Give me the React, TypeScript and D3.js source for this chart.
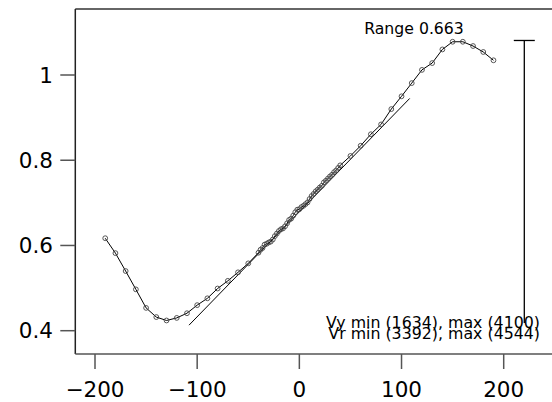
import React from "react";
import * as d3 from "d3";

const xValues: number[] = [
  -190, -180, -170, -160, -150, -140, -130, -120, -110, -100, -90, -80, -70, -60, -50,
  -40, -38, -36, -34, -32, -30, -28, -26, -24, -22, -20, -18, -16, -14, -12, -10, -8, -6, -4, -2,
  0, 2, 4, 6, 8, 10, 12, 14, 16, 18, 20, 22, 24, 26, 28, 30, 32, 34, 36, 38, 40,
  50, 60, 70, 80, 90, 100, 110, 120, 130, 140, 150, 160, 170, 180, 190,
];
const yValues: number[] = [
  0.617, 0.582, 0.54, 0.497, 0.4535, 0.432, 0.424, 0.43, 0.441, 0.46, 0.476, 0.499, 0.517, 0.537, 0.558,
  0.583, 0.59, 0.594, 0.602, 0.604, 0.607, 0.609, 0.614, 0.622, 0.628, 0.634, 0.638, 0.64, 0.645, 0.652, 0.66, 0.663, 0.67, 0.678, 0.684,
  0.685, 0.69, 0.693, 0.697, 0.701, 0.709, 0.716, 0.721, 0.727, 0.731, 0.736, 0.74, 0.748, 0.752, 0.757, 0.762, 0.766, 0.772, 0.776, 0.782, 0.788,
  0.81, 0.834, 0.861, 0.884, 0.92, 0.95, 0.981, 1.012, 1.028, 1.06, 1.078, 1.078, 1.068, 1.054, 1.0345,
];
const fitX: number[] = [-108, 108];
const fitY: number[] = [0.413, 0.945];
const xTicks: number[] = [-200, -100, 0, 100, 200];
const yTicks: number[] = [0.4, 0.6, 0.8, 1];
const rangeTop = 1.081;
const rangeValue = 0.663;
const rangeLabel = "Range 0.663";
const infoLines: string[] = ["Vy min (1634), max (4100)", "Vr min (3392), max (4544)"];

const W = 552;
const H = 402;
const FONT = "'DejaVu Sans', sans-serif";

export default function App() {
  const x = d3.scaleLinear().domain([-200, 200]).range([95, 503.7]);
  const y = d3.scaleLinear().domain([0.4, 1]).range([330.7, 75]);
  const left = 75.3;
  const top = 9;
  const bottom = 354;

  const pts = xValues.map((v, i) => [v, yValues[i]] as [number, number]);
  const line = d3
    .line<[number, number]>()
    .x((d) => x(d[0]))
    .y((d) => y(d[1]));
  const fitPts = fitX.map((v, i) => [v, fitY[i]] as [number, number]);

  const fmtY = (v: number) => (v === 1 ? "1" : d3.format(".1f")(v));
  const fmtX = (v: number) => (v < 0 ? "\u2212" + Math.abs(v) : String(v));

  const barX = 524.3;

  return (
    <svg
      width={W}
      height={H}
      style={{ position: "absolute", left: 0, top: 0, background: "#fff" }}
      fontFamily={FONT}
    >
      <rect x={0} y={0} width={W} height={H} fill="#fff" />
      {/* frame */}
      <line x1={left} x2={W} y1={top} y2={top} stroke="#333" strokeWidth={1.5} />
      <line x1={left} x2={left} y1={top} y2={bottom} stroke="#222" strokeWidth={1.5} />
      <line x1={left} x2={W} y1={bottom} y2={bottom} stroke="#555" strokeWidth={1.5} />

      {/* x ticks */}
      {xTicks.map((t) => (
        <g key={"xt" + t}>
          <line x1={x(t)} x2={x(t)} y1={bottom} y2={bottom + 15} stroke="#555" strokeWidth={1.5} />
          <text x={x(t)} y={397} textAnchor="middle" fontSize={21.5} fill="#000">
            {fmtX(t)}
          </text>
        </g>
      ))}
      {/* y ticks */}
      {yTicks.map((t) => (
        <g key={"yt" + t}>
          <line x1={left - 15} x2={left} y1={y(t)} y2={y(t)} stroke="#555" strokeWidth={1.5} />
          <text x={53} y={y(t)} dy="0.36em" textAnchor="end" fontSize={21.5} fill="#000">
            {fmtY(t)}
          </text>
        </g>
      ))}

      {/* fit line */}
      <path d={line(fitPts) || ""} fill="none" stroke="#000" strokeWidth={1} />
      {/* data line */}
      <path d={line(pts) || ""} fill="none" stroke="#000" strokeWidth={1} />
      {pts.map((p, i) => (
        <circle
          key={"c" + i}
          cx={x(p[0])}
          cy={y(p[1])}
          r={2.4}
          fill="none"
          stroke="#444"
          strokeWidth={0.9}
        />
      ))}

      {/* range bar */}
      <line x1={barX} x2={barX} y1={y(rangeTop)} y2={y(rangeTop - rangeValue)} stroke="#000" strokeWidth={1.3} />
      <line x1={barX - 10.5} x2={barX + 10.5} y1={y(rangeTop)} y2={y(rangeTop)} stroke="#000" strokeWidth={1.3} />
      <text x={414} y={34} textAnchor="middle" fontSize={15.7} fill="#000">
        {rangeLabel}
      </text>

      {/* info text */}
      {infoLines.map((s, i) => (
        <text key={"info" + i} x={540} y={328 + i * 11} textAnchor="end" fontSize={15.8} fill="#000">
          {s}
        </text>
      ))}
    </svg>
  );
}
